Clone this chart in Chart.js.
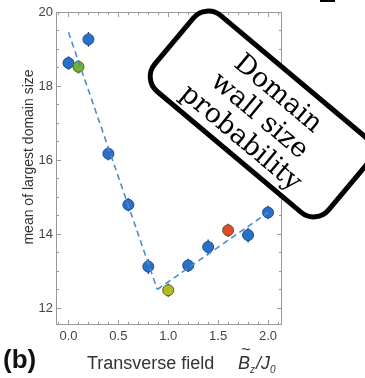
<!DOCTYPE html>
<html>
<head>
<meta charset="utf-8">
<script src="https://cdn.jsdelivr.net/npm/chart.js@4.4.1/dist/chart.umd.min.js"></script>
<style>
  body { margin: 0; background: #fff; }
  #wrap { position: relative; width: 365px; height: 378px; overflow: hidden; }
  #note {
    position: absolute;
    left: 145px; top: 62px;
    width: 222px; height: 94px;
    border: 5px solid #000;
    border-radius: 22px;
    background: #fff;
    transform: rotate(40deg);
    font-family: "DejaVu Serif", serif;
    font-size: 27px;
    line-height: 29px;
    text-align: center;
    display: flex; flex-direction: column; justify-content: center;
    color: #000;
  }
  #panel {
    position: absolute; left: 3px; top: 344px;
    font-family: "Liberation Sans", Arial, sans-serif;
    font-weight: bold; font-size: 26px; color: #111;
  }
  #frag { position: absolute; left: 320px; top: 0; width: 15px; height: 2px; background: #000; }
</style>
</head>
<body>
<div id="wrap">
  <canvas id="domainChart"></canvas>
  <div id="note"><div>Domain</div><div>wall size</div><div>probability</div></div>
  <div id="panel">(b)</div>
  <div id="frag"></div>
</div>
<script>
// transverse field values and measured mean of largest domain
const fieldValues = [0.0, 0.1, 0.2, 0.4, 0.6, 0.8, 1.0, 1.2, 1.4, 1.6, 1.8, 2.0];
const domainSize = [18.62, 18.52, 19.26, 16.17, 14.79, 13.12, 12.48, 13.15, 13.65, 14.1, 13.97, 14.58];
const domainError = [0.18, 0.18, 0.2, 0.18, 0.18, 0.2, 0.18, 0.18, 0.2, 0.18, 0.2, 0.18];

// two straight fits meeting at the minimum
const fitLeftX = [0.0, 0.89];
const fitLeftY = [19.45, 12.5];
const fitRightX = [0.89, 2.0];
const fitRightY = [12.5, 14.58];

const xTickValues = [0.0, 0.5, 1.0, 1.5, 2.0];
const yTickValues = [12, 14, 16, 18, 20];

// a few points are drawn in their own colour
const specialColors = { 1: "#6cb52d", 6: "#b3bb22", 9: "#e04b2c" };
const blue = "#2c6fc6";

const pointFill = fieldValues.map((x, i) => specialColors[i] || blue);
const pointEdge = fieldValues.map((x, i) => (specialColors[i] ? "#5a5a2a" : "#1d4f90"));

const toXY = (xs, ys) => xs.map((x, i) => ({ x: x, y: ys[i] }));

const sans = "'Liberation Sans', Arial, sans-serif";

// error bars, frame and inward ticks, axis titles
const framePlugin = {
  id: "frame",
  beforeDatasetsDraw(chart) {
    const ctx = chart.ctx;
    const ys = chart.scales.y;
    const meta = chart.getDatasetMeta(2);
    ctx.save();
    ctx.strokeStyle = "#1d4f90";
    ctx.lineWidth = 1.5;
    meta.data.forEach((pt, i) => {
      const top = ys.getPixelForValue(domainSize[i] + domainError[i]);
      const bot = ys.getPixelForValue(domainSize[i] - domainError[i]);
      ctx.beginPath();
      ctx.moveTo(pt.x, top);
      ctx.lineTo(pt.x, bot);
      ctx.stroke();
    });
    ctx.restore();
  },
  afterDraw(chart) {
    const ctx = chart.ctx;
    const a = chart.chartArea;
    const xs = chart.scales.x;
    const ys = chart.scales.y;
    ctx.save();
    ctx.strokeStyle = "#999";
    ctx.lineWidth = 1;
    ctx.strokeRect(a.left + 0.5, a.top + 0.5, a.right - a.left - 1, a.bottom - a.top - 1);

    ctx.beginPath();
    for (let k = -1; k <= 21; k++) {
      const v = k / 10;
      const px = Math.round(xs.getPixelForValue(v)) + 0.5;
      if (px < a.left + 1 || px > a.right - 1) continue;
      const len = k % 5 === 0 ? 5 : 3;
      ctx.moveTo(px, a.bottom);
      ctx.lineTo(px, a.bottom - len);
      ctx.moveTo(px, a.top);
      ctx.lineTo(px, a.top + len);
    }
    for (let k = 23; k <= 40; k++) {
      const v = k / 2;
      const py = Math.round(ys.getPixelForValue(v)) + 0.5;
      if (py < a.top + 1 || py > a.bottom - 1) continue;
      const len = k % 4 === 0 ? 5 : 3;
      ctx.moveTo(a.left, py);
      ctx.lineTo(a.left + len, py);
      ctx.moveTo(a.right, py);
      ctx.lineTo(a.right - len, py);
    }
    ctx.stroke();

    ctx.fillStyle = "#333";
    ctx.font = "14px " + sans;
    ctx.textAlign = "center";
    ctx.textBaseline = "middle";
    ctx.translate(29, 157);
    ctx.rotate(-Math.PI / 2);
    ctx.fillText("mean of largest domain size", 0, 0);
    ctx.restore();

    // x axis title with tilde-B and subscripts
    ctx.save();
    ctx.fillStyle = "#333";
    ctx.textBaseline = "alphabetic";
    ctx.textAlign = "left";
    const base = 369;
    ctx.font = "18px " + sans;
    ctx.fillText("Transverse field", 87, base);
    let x = 238;
    ctx.font = "italic 18px " + sans;
    ctx.fillText("B", x, base);
    const bw = ctx.measureText("B").width;
    ctx.font = "16px " + sans;
    ctx.textAlign = "center";
    ctx.fillText("~", x + bw / 2 + 2, base - 14);
    ctx.textAlign = "left";
    x += bw;
    ctx.font = "italic 10px " + sans;
    ctx.fillText("z", x, base + 4);
    x += ctx.measureText("z").width + 1;
    ctx.font = "italic 18px " + sans;
    ctx.fillText("/J", x, base);
    x += ctx.measureText("/J").width;
    ctx.font = "italic 10px " + sans;
    ctx.fillText("0", x, base + 4);
    ctx.restore();
  }
};

const ctx = document.getElementById("domainChart").getContext("2d");
const domainChart = new Chart(ctx, {
  type: "scatter",
  data: {
    datasets: [
      {
        type: "line",
        data: toXY(fitLeftX, fitLeftY),
        borderColor: "#4a8cd0",
        borderWidth: 1.6,
        borderDash: [6, 4],
        pointRadius: 0,
        fill: false,
      },
      {
        type: "line",
        data: toXY(fitRightX, fitRightY),
        borderColor: "#4a8cd0",
        borderWidth: 1.6,
        borderDash: [6, 4],
        pointRadius: 0,
        fill: false,
      },
      {
        data: toXY(fieldValues, domainSize),
        backgroundColor: pointFill,
        borderColor: pointEdge,
        borderWidth: 1,
        pointRadius: 5.5,
        pointHoverRadius: 5.5,
      },
    ],
  },
  options: {
    responsive: true,
    maintainAspectRatio: false,
    animation: false,
    layout: { padding: { left: 0, top: 12, right: 83, bottom: 0 } },
    plugins: {
      legend: { display: false },
      tooltip: { enabled: false },
    },
    scales: {
      x: {
        type: "linear",
        min: -0.125,
        max: 2.14,
        afterBuildTicks: (s) => { s.ticks = xTickValues.map((v) => ({ value: v })); },
        afterFit: (s) => { s.height = 53; },
        grid: { display: false, drawTicks: false },
        border: { display: false },
        ticks: {
          color: "#444",
          padding: 4,
          font: { family: sans, size: 13 },
          callback: (v) => Number(v).toFixed(1),
        },
      },
      y: {
        type: "linear",
        min: 11.54,
        max: 20,
        afterBuildTicks: (s) => { s.ticks = yTickValues.map((v) => ({ value: v })); },
        afterFit: (s) => { s.width = 56; },
        grid: { display: false, drawTicks: false },
        border: { display: false },
        ticks: {
          color: "#444",
          padding: 3,
          font: { family: sans, size: 13 },
        },
      },
    },
  },
  plugins: [framePlugin],
});
</script>
</body>
</html>
